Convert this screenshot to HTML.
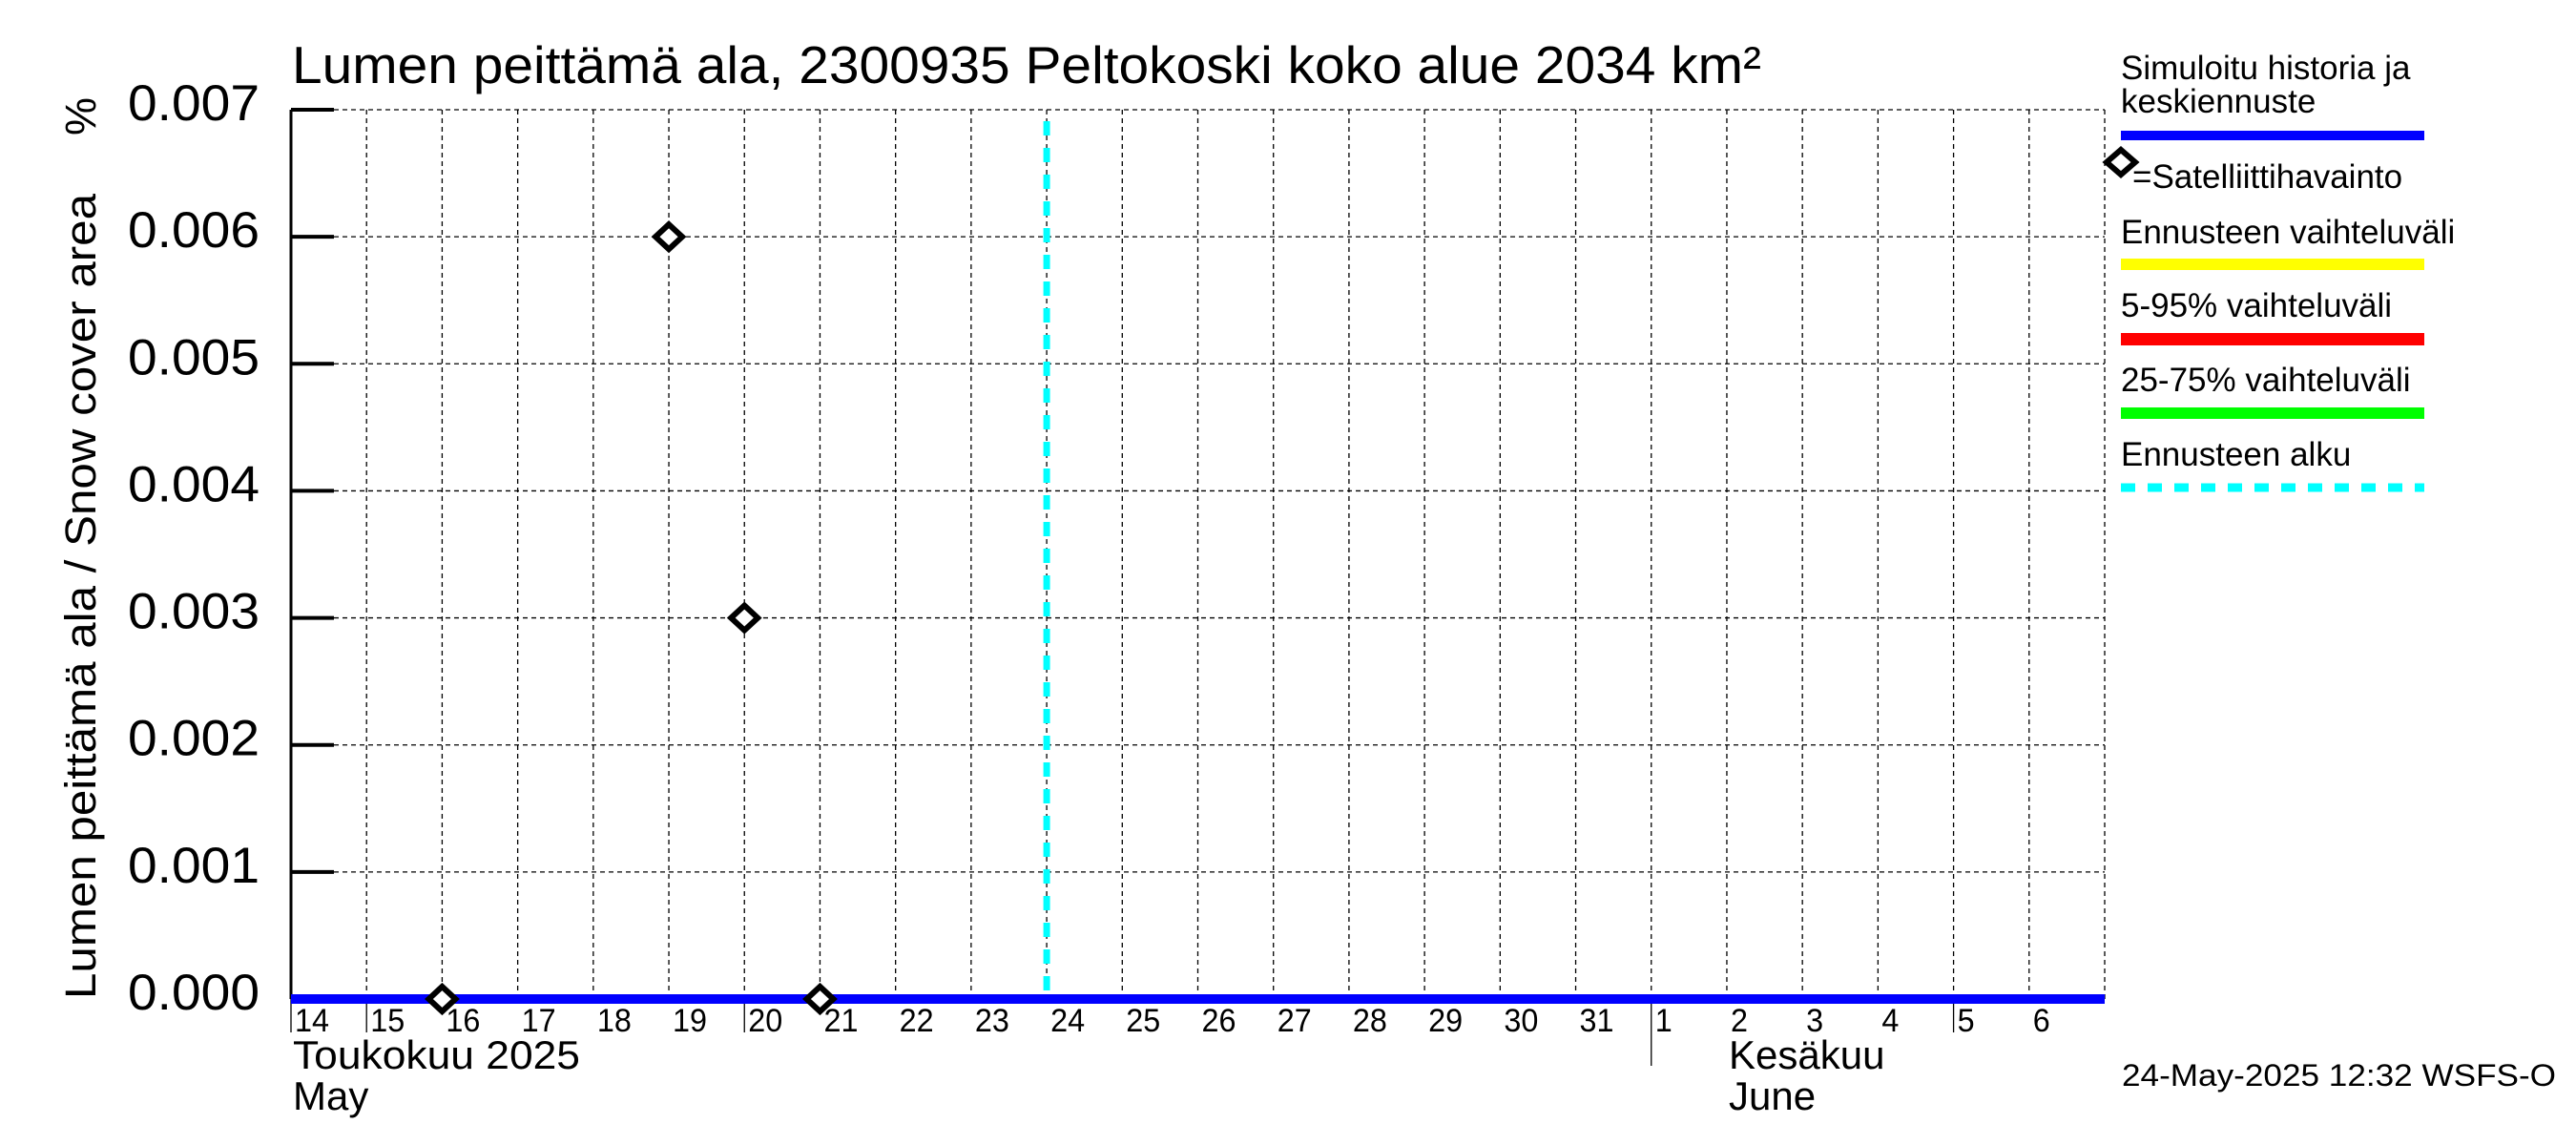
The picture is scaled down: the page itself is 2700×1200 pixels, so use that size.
<!DOCTYPE html>
<html><head><meta charset="utf-8">
<style>
html,body{margin:0;padding:0;background:#fff;}
svg{display:block;font-family:"Liberation Sans",sans-serif;}
</style></head>
<body>
<svg id="chart" width="2700" height="1200" viewBox="0 0 2700 1200" xmlns="http://www.w3.org/2000/svg">
<rect x="0" y="0" width="2700" height="1200" fill="#fff"/>
<text x="306" y="87" font-size="55" textLength="1540" lengthAdjust="spacingAndGlyphs">Lumen peittämä ala, 2300935 Peltokoski koko alue 2034 km²</text>
<text transform="translate(100,1047) rotate(-90)" font-size="45" textLength="844" lengthAdjust="spacingAndGlyphs">Lumen peittämä ala / Snow cover area</text>
<text transform="translate(100,142) rotate(-90)" font-size="45">%</text>
<g id="grid"></g>
<g id="marks"></g>
<g id="legend">
<text x="2223" y="83" font-size="35">Simuloitu historia ja</text>
<text x="2223" y="118" font-size="35">keskiennuste</text>
<rect x="2223" y="137" width="318" height="10" fill="#0000ff"/>
<path d="M2223 157 L2238 170 L2223 183 L2208 170 Z" fill="#fff" stroke="#000" stroke-width="6"/>
<text x="2235" y="197" font-size="35">=Satelliittihavainto</text>
<text x="2223" y="255" font-size="35">Ennusteen vaihteluväli</text>
<rect x="2223" y="271" width="318" height="12" fill="#ffff00"/>
<text x="2223" y="332" font-size="35">5-95% vaihteluväli</text>
<rect x="2223" y="349" width="318" height="13" fill="#ff0000"/>
<text x="2223" y="410" font-size="35">25-75% vaihteluväli</text>
<rect x="2223" y="427" width="318" height="12" fill="#00ff00"/>
<text x="2223" y="488" font-size="35">Ennusteen alku</text>
<line x1="2223" y1="511" x2="2541" y2="511" stroke="#00ffff" stroke-width="9" stroke-dasharray="15 13"/>
</g>
<text x="307" y="1120" font-size="42" textLength="301" lengthAdjust="spacingAndGlyphs">Toukokuu  2025</text>
<text x="307" y="1163" font-size="42">May</text>
<text x="1812" y="1120" font-size="42">Kesäkuu</text>
<text x="1812" y="1163" font-size="42">June</text>
<text x="2224" y="1138" font-size="32" textLength="455" lengthAdjust="spacingAndGlyphs">24-May-2025 12:32 WSFS-O</text>
</svg>
<script>
// data
const yTicks = [0, 0.001, 0.002, 0.003, 0.004, 0.005, 0.006, 0.007];
const yTickLabels = ["0.000","0.001","0.002","0.003","0.004","0.005","0.006","0.007"];
const dayLabels = ["14","15","16","17","18","19","20","21","22","23","24","25","26","27","28","29","30","31","1","2","3","4","5","6"];
const obsDays = [2, 5, 6, 7];          // days since May 14
const obsValues = [0, 0.006, 0.003, 0];
const simDays = [0, 24];
const simValues = [0, 0];
const forecastStartDay = 10;
const monthBoundaryDay = 18;

const L=305,R=2206,T=115,B=1047,NDAYS=24,YMAX=0.007;
const xs = d => L + d*(R-L)/NDAYS;
const ys = v => B - v*(B-T)/YMAX;
const NS="http://www.w3.org/2000/svg";
const grid=document.getElementById('grid'), marks=document.getElementById('marks');
function mk(tag, attrs, parent){const e=document.createElementNS(NS,tag);for(const k in attrs)e.setAttribute(k,attrs[k]);parent.appendChild(e);return e;}

for(let i=0;i<=NDAYS;i++){
  const g=mk('line',{x1:xs(i),y1:T,x2:xs(i),y2:B,stroke:'#000','stroke-width':1.3,'stroke-dasharray':'5 4'},grid);
  
  
}
dayLabels.forEach((lab,i)=>{
  const t=mk('text',{x:xs(i)+4,y:1081,'font-size':34,textLength:lab.length*18,lengthAdjust:'spacingAndGlyphs'},grid);
  t.textContent=lab;
  
  
});
[0,1,6,monthBoundaryDay,22].forEach(d=>{
  const tk=mk('line',{x1:xs(d),y1:B,x2:xs(d),y2:d===monthBoundaryDay?1117:1082,stroke:'#000','stroke-width':1.3},grid);
  
  
});
yTicks.forEach((v,i)=>{
  const g=mk('line',{x1:L,y1:ys(v),x2:R,y2:ys(v),stroke:'#000','stroke-width':1.3,'stroke-dasharray':'5 4'},grid);
  
  
  const tk=mk('line',{x1:L,y1:ys(v),x2:L+45,y2:ys(v),stroke:'#000','stroke-width':4},grid);
  
  
  const t=mk('text',{x:272,y:ys(v)+11,'font-size':53,'text-anchor':'end',textLength:138,lengthAdjust:'spacingAndGlyphs'},grid);
  t.textContent=yTickLabels[i];
  
  
});
const ax=mk('line',{x1:L,y1:T,x2:L,y2:B,stroke:'#000','stroke-width':3},grid);



const fs=mk('line',{x1:xs(forecastStartDay),y1:127,x2:xs(forecastStartDay),y2:B,stroke:'#00ffff','stroke-width':7,'stroke-dasharray':'15 13'},marks);



const sim=mk('polyline',{points:simDays.map((d,i)=>xs(d)+','+ys(simValues[i])).join(' '),fill:'none',stroke:'#0000ff','stroke-width':10},marks);



obsDays.forEach((d,i)=>{
  const x=xs(d),y=ys(obsValues[i]);
  const p=mk('path',{d:`M${x} ${y-13} L${x+14} ${y} L${x} ${y+13} L${x-14} ${y} Z`,fill:'#fff',stroke:'#000','stroke-width':6},marks);
  
  
});
</script>
</body></html>
